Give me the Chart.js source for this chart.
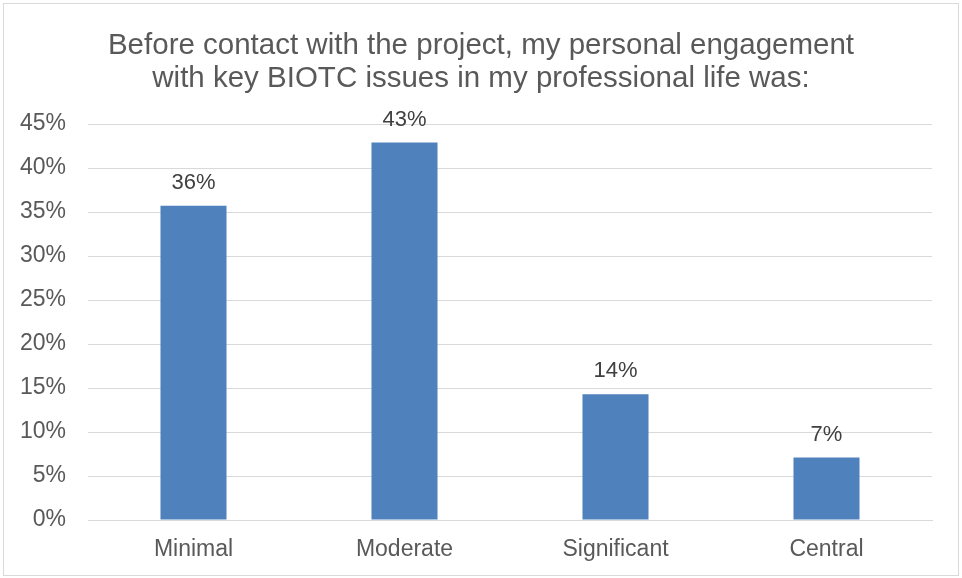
<!DOCTYPE html>
<html>
<head>
<meta charset="utf-8">
<script src="https://cdn.jsdelivr.net/npm/chart.js@4/dist/chart.umd.min.js"></script>
<style>
  html, body { margin: 0; padding: 0; background: #ffffff; }
  #wrap { width: 962px; height: 578px; position: relative; }
</style>
</head>
<body>
<div id="wrap"><canvas id="chart" width="962" height="578"></canvas></div>
<script>
// Survey answers: engagement level before contact with the project
const categories = ['Minimal', 'Moderate', 'Significant', 'Central'];
const shares = [35.7, 42.9, 14.3, 7.1];            // percent of respondents
const yTicks = [0, 5, 10, 15, 20, 25, 30, 35, 40, 45];
const titleLines = [
  'Before contact with the project, my personal engagement',
  'with key BIOTC issues in my professional life was:'
];

const TEXT = '#595959';
const GRID = '#d9d9d9';
const BAR = '#4f81bd';
const FONT = 'Arial, "Liberation Sans", sans-serif';

// White background plus the thin frame around the whole chart
const frame = {
  id: 'frame',
  beforeDraw(chart) {
    const { ctx, width, height } = chart;
    ctx.save();
    ctx.fillStyle = '#ffffff';
    ctx.fillRect(0, 0, width, height);
    ctx.strokeStyle = GRID;
    ctx.lineWidth = 1;
    ctx.strokeRect(3.5, 3.5, width - 7, height - 6);
    ctx.restore();
  }
};

// Two-line heading centred on the whole canvas (space reserved by layout padding)
const heading = {
  id: 'heading',
  afterDraw(chart) {
    const { ctx, width } = chart;
    ctx.save();
    ctx.fillStyle = TEXT;
    ctx.font = '29.5px ' + FONT;
    ctx.textAlign = 'center';
    ctx.textBaseline = 'middle';
    titleLines.forEach((line, i) => ctx.fillText(line, width / 2, 46 + i * 33));
    ctx.restore();
  }
};

// Percentage written above each bar
const valueLabels = {
  id: 'valueLabels',
  afterDatasetsDraw(chart) {
    const { ctx } = chart;
    const meta = chart.getDatasetMeta(0);
    ctx.save();
    ctx.fillStyle = '#404040';
    ctx.font = '22px ' + FONT;
    ctx.textAlign = 'center';
    ctx.textBaseline = 'bottom';
    meta.data.forEach((bar, i) => {
      const v = chart.data.datasets[0].data[i];
      ctx.fillText(Math.round(v) + '%', bar.x, bar.y - 12);
    });
    ctx.restore();
  }
};

new Chart(document.getElementById('chart'), {
  type: 'bar',
  data: {
    labels: categories,
    datasets: [{
      data: shares,
      backgroundColor: BAR,
      borderWidth: 0,
      barPercentage: 0.5,
      categoryPercentage: 0.626
    }]
  },
  options: {
    responsive: false,
    animation: false,
    devicePixelRatio: 1,
    layout: { padding: { left: 0, right: 30, top: 124, bottom: 0 } },
    plugins: {
      legend: { display: false },
      tooltip: { enabled: false },
      title: { display: false }
    },
    scales: {
      x: {
        grid: { display: false, drawTicks: false },
        border: { display: true, color: GRID, width: 1 },
        ticks: { color: TEXT, font: { family: FONT, size: 23 }, padding: 16 },
        afterFit(scale) { scale.height = 58; }
      },
      y: {
        min: 0,
        max: 45,
        afterBuildTicks(scale) { scale.ticks = yTicks.map(v => ({ value: v })); },
        grid: { color: GRID, lineWidth: 1, drawTicks: false },
        border: { display: false },
        ticks: {
          color: TEXT,
          font: { family: FONT, size: 23 },
          padding: 22,
          callback: v => v + '%'
        },
        afterFit(scale) { scale.width = 88; }
      }
    }
  },
  plugins: [frame, heading, valueLabels]
});
</script>
</body>
</html>
